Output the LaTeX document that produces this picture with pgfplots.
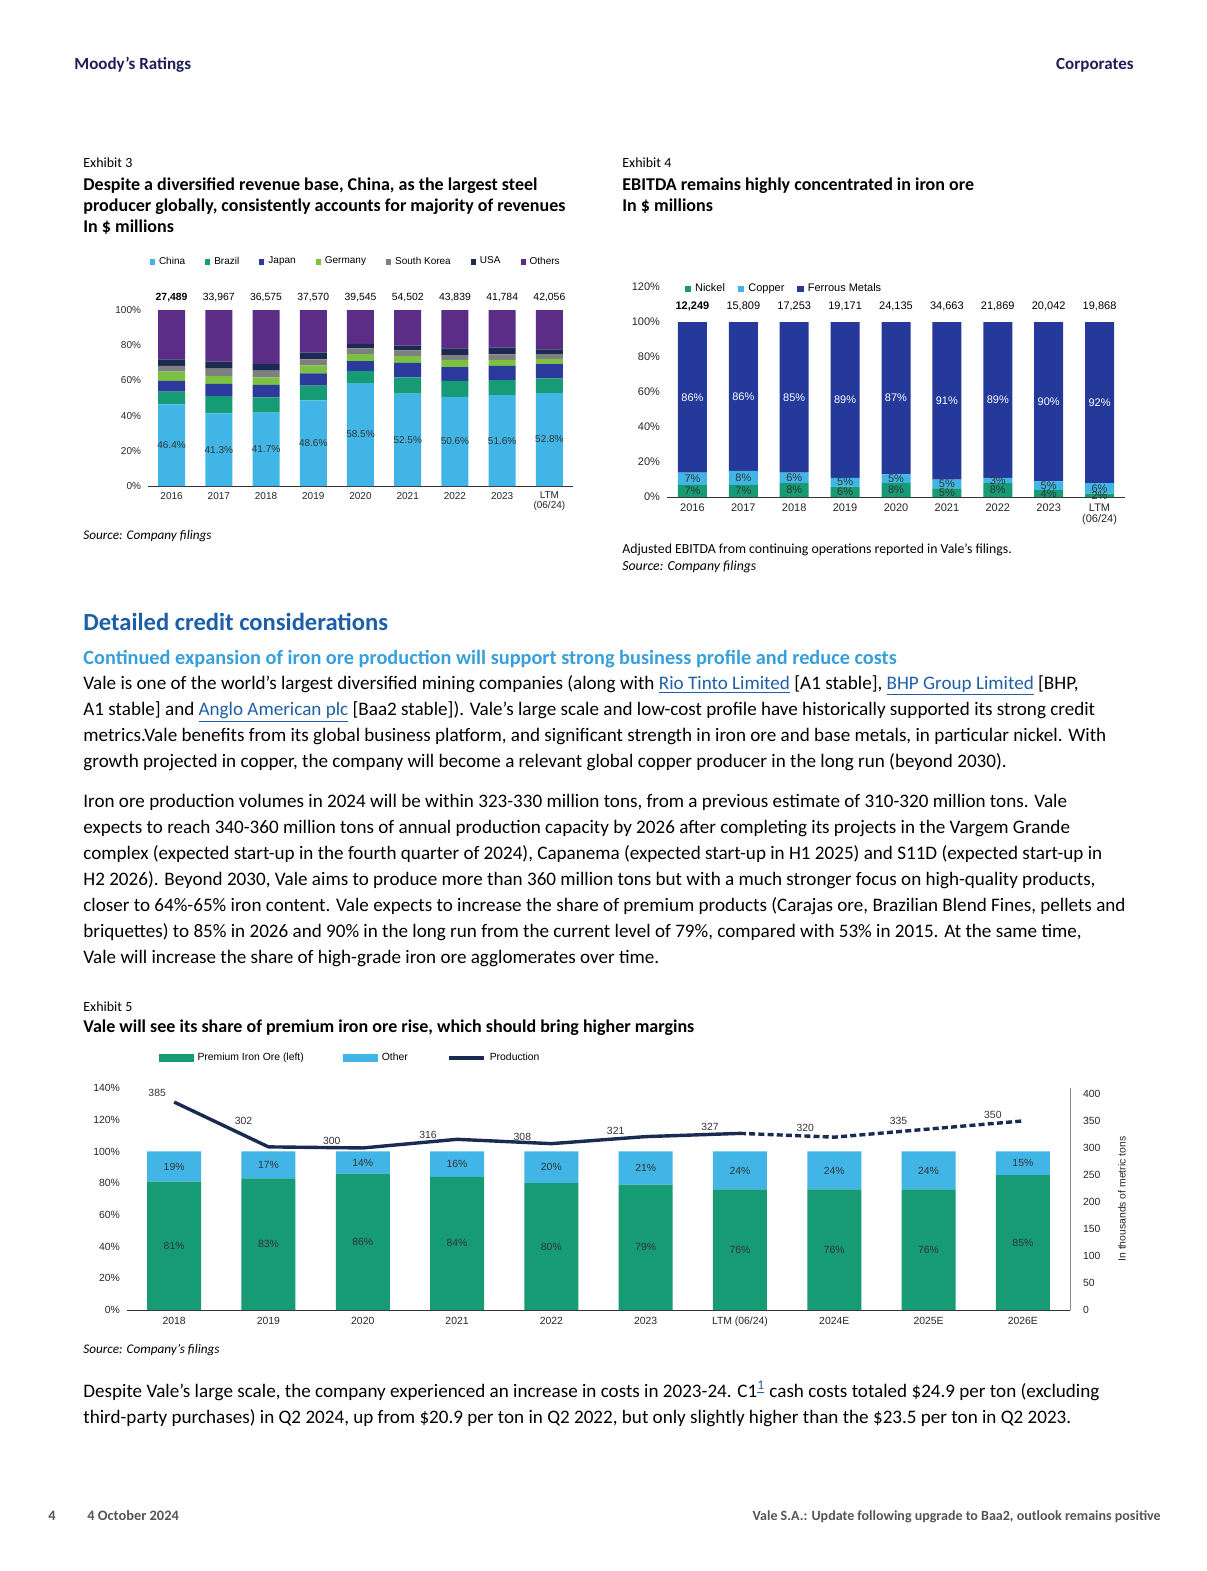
\documentclass[border=0pt]{standalone}
\usepackage{pgfplots}
\pgfplotsset{compat=1.18}
\usepackage{pgfplotstable}
\usepackage{fontspec}
\setmainfont{Carlito}
\newfontfamily\chartfont{Liberation Sans}

\definecolor{moodys}{HTML}{1E1F5A}
\definecolor{head}{HTML}{1C5FA8}
\definecolor{subhead}{HTML}{37A0DB}
\definecolor{link}{HTML}{1F5FA8}
\definecolor{foot}{HTML}{555555}
\definecolor{cLight}{HTML}{41B6E6}
\definecolor{cGreen}{HTML}{169B74}
\definecolor{cBlue}{HTML}{2B3A9C}
\definecolor{cLime}{HTML}{7DC142}
\definecolor{cGray}{HTML}{7F7F7F}
\definecolor{cNavy}{HTML}{1B2A50}
\definecolor{cPurple}{HTML}{5C2D87}
\definecolor{cFerrous}{HTML}{25399A}
\definecolor{lbl}{HTML}{333333}

\pgfplotsset{/pgf/number format/assume math mode=true}

\newcommand\fs[2]{\fontsize{#1bp}{#2bp}\selectfont}
\newcommand\lnk[1]{\textcolor{link}{\underline{#1}}}
\newcommand\cf[1]{\chartfont\fontsize{#1bp}{#1bp}\selectfont}

% Exhibit 3: revenue by destination, share in %
\pgfplotstableread{
x china brazil japan germany korea usa others tot
0 46.4 7.2 6.2 5.2 3.2 3.8 28.0 {\textbf{27,489}}
1 41.3 9.8 6.9 4.5 4.2 3.9 29.4 33,967
2 41.7 8.7 7.0 4.3 3.8 3.8 30.7 36,575
3 48.6 8.4 7.0 4.6 3.4 3.8 24.2 37,570
4 58.5 6.8 5.7 4.0 3.2 2.5 19.3 39,545
5 52.5 9.2 8.2 4.0 3.2 2.6 20.3 54,502
6 50.6 9.2 7.8 4.0 2.8 3.8 21.8 43,839
7 51.6 8.6 8.0 3.4 3.2 3.8 21.4 41,784
8 52.8 8.4 8.1 3.0 2.7 2.7 22.3 42,056
}\revtable

% Exhibit 4: EBITDA by segment, share in % (ferrous = printed label,
% ferrousbar = what the bar draws so every bar reaches 100%)
\pgfplotstableread{
x nickel copper ferrous ferrousbar tot
0 7 7 86 86 {\textbf{12,249}}
1 7 8 86 85 15,809
2 8 6 85 86 17,253
3 6 5 89 89 19,171
4 8 5 87 87 24,135
5 5 5 91 90 34,663
6 8 3 89 89 21,869
7 4 5 90 91 20,042
8 2 6 92 92 19,868
}\ebitdatable

% Exhibit 5: premium share (left axis) and production (right axis)
\pgfplotstableread{
x premium other
0 81 19
1 83 17
2 86 14
3 84 16
4 80 20
5 79 21
6 76 24
7 76 24
8 76 24
9 85 15
}\premtable

\pgfplotstableread{
x prod dx dy
0 385 -17 9
1 302 -25 26
2 300 -31 7
3 316 -29 4
4 308 -29 7
5 321 -30 6
6 327 -30 6
}\prodtable

\pgfplotstableread{
x prod dx dy lab
6 327 0 0 {}
7 320 -29 9 320
8 335 -30 8 335
9 350 -30 6 350
}\prodetable

\pgfplotsset{
  sqlegend/.style={legend image code/.code={
    \fill[##1] (0bp,-#1) rectangle (2*#1,#1);}},
  lab/.style={draw=none, mark=none,
    every node near coord/.append style={anchor=center, #1}},
  pct/.style={nodes near coords={\pgfmathprintnumber{\pgfplotspointmeta}\%}},
  overlay/.style={scale only axis, clip=false, axis lines=none,
    xmin=-0.5, xmax=#1},
}

\begin{document}
\begin{tikzpicture}
\begin{scope}[x=0.5bp,y=-0.5bp]
\path[use as bounding box, fill=white] (0,0) rectangle (1207,1571);
\coordinate (exA) at (148,486);
\coordinate (exB) at (667,497);
\coordinate (exC) at (127,1310);

\tikzset{t/.style={anchor=base west, inner sep=0pt},
         tr/.style={anchor=base east, inner sep=0pt}}

% page header
\node[t, text=moodys, font=\fs{8.5}{10}\bfseries] at (74,69) {Moody's Ratings};
\node[tr, text=moodys, font=\fs{8.5}{10}\bfseries] at (1134,69) {Corporates};

% exhibit 3 titles
\node[t, font=\fs{7}{8}] at (83,167) {Exhibit 3};
\node[t, font=\fs{9}{10}\bfseries] at (83,190) {Despite a diversified revenue base, China, as the largest steel};
\node[t, font=\fs{9}{10}\bfseries] at (83,211) {producer globally, consistently accounts for majority of revenues};
\node[t, font=\fs{9}{10}\bfseries] at (83,232) {In \$ millions};
\node[t, font=\fs{6.6}{8}\itshape] at (83,539) {Source: Company filings};

% exhibit 4 titles
\node[t, font=\fs{7}{8}] at (622,167) {Exhibit 4};
\node[t, font=\fs{9}{10}\bfseries] at (622,190) {EBITDA remains highly concentrated in iron ore};
\node[t, font=\fs{9}{10}\bfseries] at (622,211) {In \$ millions};
\node[t, font=\fs{6.9}{8}] at (622,553) {Adjusted EBITDA from continuing operations reported in Vale's filings.};
\node[t, font=\fs{6.9}{8}\itshape] at (622,570) {Source: Company filings};

% section headings
\node[t, text=head, font=\fs{12.3}{14}\bfseries] at (83,630) {Detailed credit considerations};
\node[t, text=subhead, font=\fs{10.15}{12}\bfseries] at (83,664) {Continued expansion of iron ore production will support strong business profile and reduce costs};

% body
\begin{scope}[every node/.append style={font=\fs{9.55}{13}}]
\node[t] at (83,689) {Vale is one of the world's largest diversified mining companies (along with \lnk{Rio Tinto Limited} [A1 stable], \lnk{BHP Group Limited} [BHP,};
\node[t] at (83,715) {A1 stable] and \lnk{Anglo American plc} [Baa2 stable]). Vale's large scale and low-cost profile have historically supported its strong credit};
\node[t] at (83,741) {metrics.Vale benefits from its global business platform, and significant strength in iron ore and base metals, in particular nickel. With};
\node[t] at (83,767) {growth projected in copper, the company will become a relevant global copper producer in the long run (beyond 2030).};

\node[t] at (83,807) {Iron ore production volumes in 2024 will be within 323-330 million tons, from a previous estimate of 310-320 million tons. Vale};
\node[t] at (83,833) {expects to reach 340-360 million tons of annual production capacity by 2026 after completing its projects in the Vargem Grande};
\node[t] at (83,859) {complex (expected start-up in the fourth quarter of 2024), Capanema (expected start-up in H1 2025) and S11D (expected start-up in};
\node[t] at (83,885) {H2 2026). Beyond 2030, Vale aims to produce more than 360 million tons but with a much stronger focus on high-quality products,};
\node[t] at (83,911) {closer to 64\%-65\% iron content. Vale expects to increase the share of premium products (Carajas ore, Brazilian Blend Fines, pellets and};
\node[t] at (83,937) {briquettes) to 85\% in 2026 and 90\% in the long run from the current level of 79\%, compared with 53\% in 2015. At the same time,};
\node[t] at (83,963) {Vale will increase the share of high-grade iron ore agglomerates over time.};

\node[t] at (83,1397) {Despite Vale's large scale, the company experienced an increase in costs in 2023-24. C1\textsuperscript{\textcolor{link}{\underline{1}}} cash costs totaled \$24.9 per ton (excluding};
\node[t] at (83,1423) {third-party purchases) in Q2 2024, up from \$20.9 per ton in Q2 2022, but only slightly higher than the \$23.5 per ton in Q2 2023.};
\end{scope}

% exhibit 5 titles
\node[t, font=\fs{7}{8}] at (83,1011) {Exhibit 5};
\node[t, font=\fs{9}{10}\bfseries] at (83,1032) {Vale will see its share of premium iron ore rise, which should bring higher margins};
\node[t, font=\fs{6.6}{8}\itshape] at (83,1353) {Source: Company's filings};

% footer
\node[t, text=foot, font=\fs{7.2}{8}\bfseries] at (48,1520) {4};
\node[t, text=foot, font=\fs{7.2}{8}\bfseries] at (87,1520) {4 October 2024};
\node[tr, text=foot, font=\fs{7}{8}\bfseries] at (1161,1520) {Vale S.A.: Update following upgrade to Baa2, outlook remains positive};
\end{scope}

% ---------------- Exhibit 3 ----------------
\begin{axis}[at={(exA)}, anchor=south west, scale only axis,
  width=212.5bp, height=88bp,
  ybar stacked, bar width=13.5bp, clip=false,
  xmin=-0.5, xmax=8.5, ymin=0, ymax=100,
  axis x line*=bottom, axis y line*=left,
  y axis line style={draw=none}, x axis line style={black!80, line width=0.4bp},
  tick style={draw=none},
  xtick={0,...,8},
  xticklabels={2016,2017,2018,2019,2020,2021,2022,2023,{LTM\\(06/24)}},
  ytick={0,20,...,100},
  yticklabels={0\%,20\%,40\%,60\%,80\%,100\%},
  ticklabel style={font=\cf{5}, text=black!85},
  xticklabel style={align=center, yshift=0.5bp},
  legend style={at={(axis cs:-0.47,127.3)}, anchor=west, draw=none, fill=none,
    inner sep=0pt, font=\cf{5}, legend columns=-1,
    /tikz/every even column/.append style={column sep=8bp}},
  sqlegend=1.3bp,
]
\addplot[fill=cLight, draw=none] table[x=x,y=china] {\revtable};
\addplot[fill=cGreen, draw=none] table[x=x,y=brazil] {\revtable};
\addplot[fill=cBlue, draw=none] table[x=x,y=japan] {\revtable};
\addplot[fill=cLime, draw=none] table[x=x,y=germany] {\revtable};
\addplot[fill=cGray, draw=none] table[x=x,y=korea] {\revtable};
\addplot[fill=cNavy, draw=none] table[x=x,y=usa] {\revtable};
\addplot[fill=cPurple, draw=none] table[x=x,y=others] {\revtable};
\legend{China,Brazil,Japan,Germany,South Korea,USA,Others}
\end{axis}
% labels of exhibit 3
\begin{axis}[at={(exA)}, anchor=south west, overlay=8.5,
  width=212.5bp, height=88bp, ymin=0, ymax=100]
\addplot[lab={font=\cf{5}, text=lbl}, point meta=\thisrow{china},
  nodes near coords={\pgfmathprintnumber[fixed,fixed zerofill,precision=1]{\pgfplotspointmeta}\%}]
  table[x=x, y expr=\thisrow{china}/2] {\revtable};
\addplot[lab={font=\cf{5.2}, text=black, anchor=south, yshift=0.5bp}, point meta=explicit symbolic,
  nodes near coords]
  table[x=x, y expr=\thisrow{china}+\thisrow{brazil}+\thisrow{japan}+\thisrow{germany}+\thisrow{korea}+\thisrow{usa}+\thisrow{others}, meta=tot] {\revtable};
\end{axis}

% ---------------- Exhibit 4 ----------------
\begin{axis}[at={(exB)}, anchor=south west, scale only axis,
  width=229bp, height=105bp,
  ybar stacked, bar width=14.5bp, clip=false,
  xmin=-0.5, xmax=8.5, ymin=0, ymax=120,
  axis x line*=bottom, axis y line*=left,
  y axis line style={draw=none}, x axis line style={black!80, line width=0.4bp},
  tick style={draw=none},
  xtick={0,...,8},
  xticklabels={2016,2017,2018,2019,2020,2021,2022,2023,{LTM\\(06/24)}},
  ytick={0,20,...,120},
  yticklabels={0\%,20\%,40\%,60\%,80\%,100\%,120\%},
  ticklabel style={font=\cf{5.5}, text=black!85},
  xticklabel style={align=center},
  legend style={at={(axis cs:-0.16,118.9)}, anchor=west, draw=none, fill=none,
    inner sep=0pt, font=\cf{5.5}, legend columns=-1,
    /tikz/every even column/.append style={column sep=4.5bp}},
  sqlegend=1.6bp,
]
\addplot[fill=cGreen, draw=none] table[x=x,y=nickel] {\ebitdatable};
\addplot[fill=cLight, draw=none] table[x=x,y=copper] {\ebitdatable};
\addplot[fill=cFerrous, draw=none] table[x=x,y=ferrousbar] {\ebitdatable};
\legend{Nickel,Copper,Ferrous Metals}
\end{axis}
% labels of exhibit 4
\begin{axis}[at={(exB)}, anchor=south west, overlay=8.5,
  width=229bp, height=105bp, ymin=0, ymax=120]
\addplot[lab={font=\cf{5.5}, text=lbl}, pct, point meta=\thisrow{nickel}]
  table[x=x, y expr=\thisrow{nickel}/2] {\ebitdatable};
\addplot[lab={font=\cf{5.5}, text=lbl}, pct, point meta=\thisrow{copper}]
  table[x=x, y expr=\thisrow{nickel}+\thisrow{copper}/2] {\ebitdatable};
\addplot[lab={font=\cf{5.5}, text=white}, pct, point meta=\thisrow{ferrous}]
  table[x=x, y expr=\thisrow{nickel}+\thisrow{copper}+\thisrow{ferrousbar}/2] {\ebitdatable};
\addplot[lab={font=\cf{5.5}, text=black, anchor=south, yshift=2bp}, point meta=explicit symbolic,
  nodes near coords]
  table[x=x, y expr=\thisrow{nickel}+\thisrow{copper}+\thisrow{ferrousbar}, meta=tot] {\ebitdatable};
\end{axis}

% ---------------- Exhibit 5 ----------------
\begin{axis}[at={(exC)}, anchor=south west, scale only axis,
  width=471.5bp, height=111bp,
  ybar stacked, bar width=27bp, clip=false,
  xmin=-0.5, xmax=9.5, ymin=0, ymax=140,
  axis x line*=bottom, axis y line*=left,
  y axis line style={draw=none}, x axis line style={black!80, line width=0.4bp},
  tick style={draw=none},
  xtick={0,...,9},
  xticklabels={2018,2019,2020,2021,2022,2023,LTM (06/24),2024E,2025E,2026E},
  ytick={0,20,...,140},
  yticklabels={0\%,20\%,40\%,60\%,80\%,100\%,120\%,140\%},
  ticklabel style={font=\cf{5.2}, text=black!85},
  legend style={at={(axis cs:-0.17,158.9)}, anchor=west, draw=none, fill=none,
    inner sep=0pt, font=\cf{5.2}, legend columns=-1,
    /tikz/every even column/.append style={column sep=17.5bp}},
  legend image code/.code={\fill[#1] (0bp,-2bp) rectangle (17.5bp,2bp);},
]
\addplot[fill=cGreen, draw=none] table[x=x,y=premium] {\premtable};
\addplot[fill=cLight, draw=none] table[x=x,y=other] {\premtable};
\addlegendentry{Premium Iron Ore (left)}
\addlegendentry{Other}
\addlegendimage{legend image code/.code={\draw[cNavy, line width=2bp] (0bp,0bp) -- (17.5bp,0bp);}}
\addlegendentry{Production}
\end{axis}
% labels of exhibit 5 bars
\begin{axis}[at={(exC)}, anchor=south west, overlay=9.5,
  width=471.5bp, height=111bp, ymin=0, ymax=140]
\addplot[lab={font=\cf{5.2}, text=lbl}, pct, point meta=\thisrow{premium}]
  table[x=x, y expr=\thisrow{premium}/2] {\premtable};
\addplot[lab={font=\cf{5.2}, text=lbl}, pct, point meta=\thisrow{other}]
  table[x=x, y expr=\thisrow{premium}+\thisrow{other}/2] {\premtable};
\end{axis}
% production on the right axis
\begin{axis}[at={(exC)}, anchor=south west, scale only axis,
  width=471.5bp, height=111bp, clip=false,
  xmin=-0.5, xmax=9.5, ymin=0, ymax=411,
  axis x line=none, axis y line*=right,
  y axis line style={black!45, line width=0.4bp},
  tick style={draw=none},
  ytick={0,50,...,400},
  ticklabel style={font=\cf{5.2}, text=black!85},
  yticklabel style={xshift=3bp},
  ylabel={In thousands of metric tons},
  ylabel style={font=\cf{5.2}, text=black!85, yshift=-2bp},
  nodes near coords style={font=\cf{5.2}, text=lbl},
]
\addplot[cNavy, line width=1.7bp, mark=none, nodes near coords,
  visualization depends on={\thisrow{dx} \as \dx},
  visualization depends on={\thisrow{dy} \as \dy},
  every node near coord/.append style={anchor=center, xshift=\dx*0.5bp, yshift=\dy*0.5bp}]
  table[x=x,y=prod] {\prodtable};
\addplot[cNavy, line width=1.7bp, mark=none, dash pattern=on 3bp off 1.6bp,
  point meta=explicit symbolic, nodes near coords,
  visualization depends on={\thisrow{dx} \as \dx},
  visualization depends on={\thisrow{dy} \as \dy},
  every node near coord/.append style={anchor=center, xshift=\dx*0.5bp, yshift=\dy*0.5bp}]
  table[x=x,y=prod,meta=lab] {\prodetable};
\end{axis}
\end{tikzpicture}
\end{document}
